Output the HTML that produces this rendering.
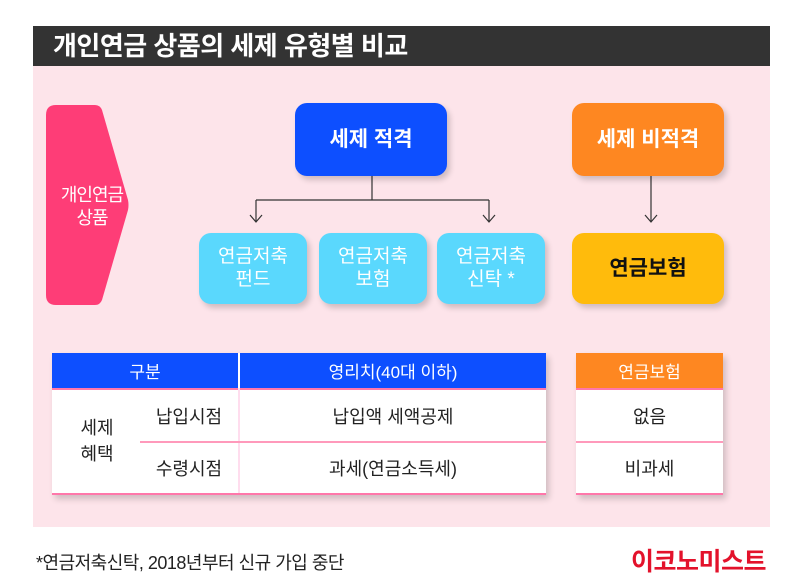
<!DOCTYPE html>
<html><head><meta charset="utf-8"><style>
body{margin:0;width:800px;height:588px;background:#fff;position:relative;font-family:"Liberation Sans","Noto Sans CJK KR",sans-serif;overflow:hidden}
div{position:absolute;box-sizing:border-box}
.bx{display:flex;align-items:center;justify-content:center;text-align:center;border-radius:12px;box-shadow:3px 4px 6px rgba(0,0,0,0.18);line-height:1.2}
.c{background:#5ad8fd;color:#fff;font-size:19px;top:233px;height:71px;width:108px}
.cell{display:flex;align-items:center;justify-content:center;font-size:18px;color:#222}
</style></head><body>
<div style="left:33px;top:26px;width:737px;height:40px;background:#333;color:#fff;font-size:26px;font-weight:bold;padding-left:20px;line-height:40px;letter-spacing:-0.5px">개인연금 상품의 세제 유형별 비교</div>
<div style="left:33px;top:66px;width:737px;height:461px;background:#fde4ea"></div>
<svg style="position:absolute;left:0;top:0" width="800" height="588">
<path d="M56 105 H95 Q100 105 102 110 L128 200 Q129 205 128 210 L102 300 Q100 305 95 305 H56 Q46 305 46 295 V115 Q46 105 56 105Z" fill="#fe3d77"/>
<g stroke="#333" stroke-width="1.2" fill="none">
<path d="M372 176V200M256 200H489M256 200V222M489 200V222M651 176V222"/>
<path d="M250 215L256 222L262 215M483 215L489 222L495 215M645 215L651 222L657 215"/>
</g>
</svg>
<div class="cell" style="left:46px;top:172px;width:92px;height:70px;color:#fff;font-size:18px;letter-spacing:-1px;line-height:1.3;text-align:center">개인연금<br>상품</div>
<div class="bx" style="left:295px;top:103px;width:152px;height:73px;background:#0d4fff;color:#fff;font-size:21px;font-weight:bold">세제 적격</div>
<div class="bx" style="left:572px;top:103px;width:152px;height:73px;background:#fe8721;color:#fff;font-size:21px;font-weight:bold">세제 비적격</div>
<div class="bx c" style="left:199px">연금저축<br>펀드</div>
<div class="bx c" style="left:319px">연금저축<br>보험</div>
<div class="bx c" style="left:437px">연금저축<br>신탁 *</div>
<div class="bx" style="left:572px;top:233px;width:152px;height:71px;background:#ffbb0c;color:#111;font-size:21px;font-weight:bold">연금보험</div>

<div style="left:52px;top:353px;width:494px;height:142px;background:#fff;box-shadow:3px 4px 6px rgba(0,0,0,0.18)"></div>
<div class="cell" style="left:52px;top:353px;width:186px;height:35px;background:#0d4fff;color:#fff;font-size:17px">구분</div>
<div class="cell" style="left:240px;top:353px;width:306px;height:35px;background:#0d4fff;color:#fff;font-size:17px">영리치(40대 이하)</div>
<div style="left:52px;top:388px;width:494px;height:2px;background:#f7a"></div>
<div style="left:238px;top:388px;width:2px;height:107px;background:#fde"></div>
<div style="left:140px;top:441px;width:406px;height:2px;background:#f9b"></div>
<div style="left:52px;top:493px;width:494px;height:2px;background:#f7a"></div>
<div class="cell" style="left:52px;top:390px;width:90px;height:103px;line-height:1.4;text-align:center">세제<br>혜택</div>
<div class="cell" style="left:140px;top:390px;width:98px;height:51px">납입시점</div>
<div class="cell" style="left:140px;top:443px;width:98px;height:50px">수령시점</div>
<div class="cell" style="left:240px;top:390px;width:306px;height:51px">납입액 세액공제</div>
<div class="cell" style="left:240px;top:443px;width:306px;height:50px">과세(연금소득세)</div>

<div style="left:576px;top:353px;width:147px;height:142px;background:#fff;box-shadow:3px 4px 6px rgba(0,0,0,0.18)"></div>
<div class="cell" style="left:576px;top:353px;width:147px;height:35px;background:#fe8721;color:#fff;font-size:17px">연금보험</div>
<div style="left:576px;top:388px;width:147px;height:2px;background:#f7a"></div>
<div style="left:576px;top:441px;width:147px;height:2px;background:#f9b"></div>
<div style="left:576px;top:493px;width:147px;height:2px;background:#f7a"></div>
<div class="cell" style="left:576px;top:390px;width:147px;height:51px">없음</div>
<div class="cell" style="left:576px;top:443px;width:147px;height:50px">비과세</div>

<div style="left:36px;top:549px;font-size:18px;color:#222;letter-spacing:-0.5px">*연금저축신탁, 2018년부터 신규 가입 중단</div>
<div style="left:600px;top:542px;width:166px;text-align:right;font-size:25px;font-weight:bold;color:#e3122b;letter-spacing:-0.5px">이코노미스트</div>
</body></html>
